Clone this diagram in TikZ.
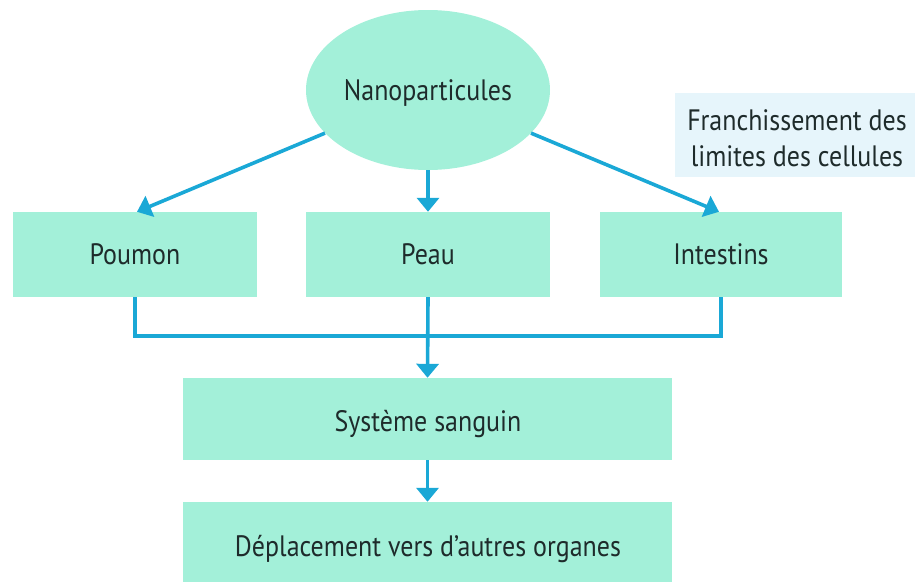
\documentclass[tikz,border=0pt]{standalone}
\usepackage{fontspec}
\setmainfont[FakeStretch=0.88]{PT Sans}
\usetikzlibrary{shapes.geometric,arrows.meta}
\definecolor{mint}{HTML}{A3F0D9}
\definecolor{flow}{HTML}{1AA8D6}
\definecolor{note}{HTML}{E6F5FB}
\definecolor{ink}{HTML}{1E2B2B}
\tikzset{
  box/.style={rectangle, fill=mint, inner sep=0pt, text=ink, font=\fontsize{29.5}{34}\selectfont},
  label/.style={text=ink, inner sep=0pt, font=\fontsize{29.5}{34}\selectfont},
  link/.style={draw=flow, line width=3.6pt},
  arr/.style={link, -{Triangle[width=22pt,length=14pt]}},
}
\begin{document}
\begin{tikzpicture}[x=1pt,y=-1pt]
\useasboundingbox (0,0) rectangle (915,581);
\clip (0,0) rectangle (915,581);
\node[box, shape=ellipse, minimum width=244pt, minimum height=160pt] (nano) at (428,90) {};
\node[label] (nanotext) at (428,93) {Nanoparticules};
\node[box, minimum width=244pt, minimum height=85pt] (poumon) at (135,254.5) {Poumon};
\node[box, minimum width=244pt, minimum height=85pt] (peau) at (428,254.5) {Peau};
\node[box, minimum width=242pt, minimum height=85pt] (intestins) at (721,254.5) {Intestins};
\node[box, minimum width=489pt, minimum height=82pt] (sys) at (427.5,419) {};
\node[label] (systext) at (428,424) {Système sanguin};
\node[box, minimum width=489pt, minimum height=90pt] (dep) at (427.5,547) {};
\node[label] (deptext) at (428,549) {Déplacement vers d’autres organes};
\node[rectangle, fill=note, minimum width=245pt, minimum height=84pt, inner sep=0pt] (notebox) at (797.5,135) {};
\node[text=ink, align=center, font=\fontsize{29.5}{35.5}\selectfont] (note) at (797,138) {Franchissement des\\limites des cellules};
\coordinate (junc) at (428,336);
\draw[arr] (nano) -- ([xshift=2pt]poumon.north);
\draw[arr] (nano) -- ([xshift=-2pt]intestins.north);
\draw[arr] (nano) -- (peau.north);
\draw[link] (poumon.south) |- (junc) -| (intestins.south);
\draw[arr] (peau.south) -- (sys.north);
\draw[arr] (sys.south) -- (dep.north);
\end{tikzpicture}
\end{document}
